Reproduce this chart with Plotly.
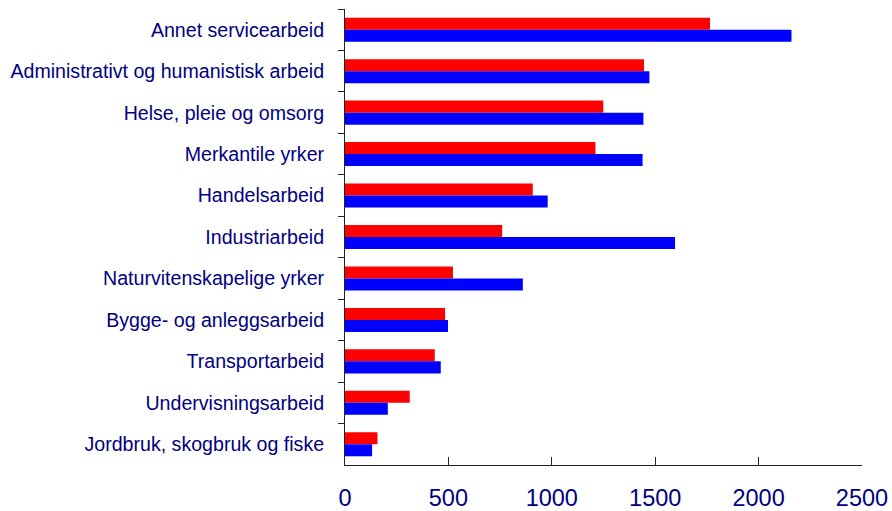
import plotly.graph_objects as go

categories = [
    "Annet servicearbeid",
    "Administrativt og humanistisk arbeid",
    "Helse, pleie og omsorg",
    "Merkantile yrker",
    "Handelsarbeid",
    "Industriarbeid",
    "Naturvitenskapelige yrker",
    "Bygge- og anleggsarbeid",
    "Transportarbeid",
    "Undervisningsarbeid",
    "Jordbruk, skogbruk og fiske",
]
red_values = [1765, 1446, 1249, 1211, 908, 760, 522, 484, 434, 313, 157]
blue_values = [2159, 1472, 1443, 1439, 980, 1596, 860, 498, 463, 207, 131]
x_ticks = [0, 500, 1000, 1500, 2000, 2500]

fig = go.Figure()
fig.add_trace(go.Bar(y=categories, x=red_values, orientation="h",
                     marker=dict(color="#FF0000", line=dict(width=0)), name="A"))
fig.add_trace(go.Bar(y=categories, x=blue_values, orientation="h",
                     marker=dict(color="#0000FF", line=dict(width=0)), name="B"))

fig.update_layout(
    width=892, height=511,
    barmode="group", bargap=0.42, bargroupgap=0,
    showlegend=False,
    plot_bgcolor="white", paper_bgcolor="white",
    margin=dict(l=344.5, r=29.7, t=9.3, b=46, autoexpand=False),
    font=dict(family="Liberation Sans, Arial", color="#000080"),
)
fig.update_xaxes(
    range=[0, 2500], tickvals=x_ticks, ticktext=[str(v) for v in x_ticks],
    showgrid=False, zeroline=False,
    showline=True, linecolor="#222222", linewidth=1,
    ticks="inside", ticklen=8, tickcolor="#222222",
    tickfont=dict(size=23.5, color="#000080"),
    ticklabelstandoff=12,
)
fig.update_yaxes(
    categoryorder="array", categoryarray=categories, autorange="reversed",
    showgrid=False, showline=True, linecolor="#222222", linewidth=1,
    ticks="outside", ticklen=6, tickcolor="#222222", tickson="boundaries",
    tickfont=dict(size=19.6, color="#000080"),
    ticklabelstandoff=16,
)
fig.write_html("out.html", config={"displayModeBar": False},
               post_script="document.body.style.margin='0';")
